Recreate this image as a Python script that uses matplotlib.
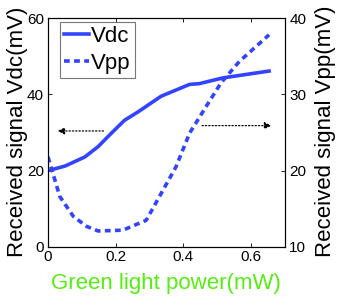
import matplotlib
matplotlib.use("Agg")
import matplotlib.pyplot as plt

plt.rcParams['font.family'] = ['Liberation Sans', 'DejaVu Sans']

power_dc = [0.0, 0.05, 0.109, 0.148, 0.187, 0.226, 0.266, 0.334, 0.418, 0.447, 0.516, 0.653]
vdc = [20.0, 21.2, 23.6, 26.3, 29.8, 33.2, 35.4, 39.5, 42.6, 42.8, 44.3, 46.1]

power_pp = [0.0, 0.035, 0.075, 0.114, 0.148, 0.221, 0.29, 0.329, 0.378, 0.418, 0.467, 0.511, 0.565, 0.653]
vpp = [21.8, 16.6, 14.0, 12.7, 12.1, 12.2, 13.5, 16.6, 20.5, 24.9, 28.4, 31.5, 34.3, 37.8]

blue = '#3344ff'
green = '#55ee11'

fig = plt.figure(figsize=(3.41, 3.07), dpi=100)
ax = fig.add_axes([48/341, 1-247/307, 237/341, 229/307])
ax2 = ax.twinx()

l1, = ax.plot(power_dc, vdc, color=blue, lw=2.6, label='Vdc')
l2, = ax2.plot(power_pp, vpp, color=blue, lw=2.6, ls=(0, (1.6, 1.2)), label='Vpp')

ax.set_xlim(0, 0.7)
ax.set_ylim(0, 60)
ax2.set_ylim(10, 40)
ax.set_xticks([0, 0.2, 0.4, 0.6])
ax.set_xticklabels(['0', '0.2', '0.4', '0.6'])
ax.set_yticks([0, 20, 40, 60])
ax2.set_yticks([10, 20, 30, 40])
for a in (ax, ax2):
    a.tick_params(direction='in', labelsize=11, length=3, width=0.6, pad=3)
    for s in a.spines.values():
        s.set_linewidth(0.8)
ax.tick_params(top=True)
ax.tick_params(axis='x', pad=2)

fig.text(17.5/341, 1-131.5/307, 'Received signal Vdc(mV)', rotation=90,
         ha='center', va='center', fontsize=16)
fig.text(325/341, 1-131.5/307, 'Received signal Vpp(mV)', rotation=90,
         ha='center', va='center', fontsize=16)
fig.text(166/341, 1-283/307, 'Green light power(mW)', ha='center', va='center',
         fontsize=16, color=green)

leg = ax.legend(handles=[l1, l2], loc='upper left', bbox_to_anchor=(0.049, 0.984),
                fontsize=16, frameon=True, fancybox=False, edgecolor='#555555',
                handlelength=1.1, handletextpad=0.12, borderpad=0.2,
                labelspacing=0.25, borderaxespad=0.0)
leg.get_frame().set_linewidth(0.8)

ax.annotate('', xy=(0.02, 30.4), xytext=(0.172, 30.4),
            arrowprops=dict(arrowstyle='-|>', ls=':', color='black', lw=0.9,
                            mutation_scale=10))
ax2.annotate('', xy=(0.668, 25.9), xytext=(0.447, 25.9),
             arrowprops=dict(arrowstyle='-|>', ls=':', color='black', lw=0.9,
                             mutation_scale=10))

fig.savefig('out.png', dpi=100)
